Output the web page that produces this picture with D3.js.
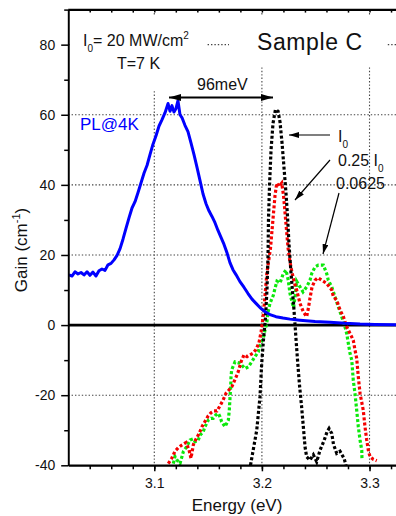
<!DOCTYPE html>
<html><head><meta charset="utf-8">
<script src="https://cdn.jsdelivr.net/npm/d3@7"></script>
<style>body{margin:0;background:#fff}svg{display:block}</style>
</head><body>
<svg id="c" width="396" height="516"></svg>
<script>
// ---------- data ----------
const plEnergy=[3.0207,3.0235,3.0263,3.0291,3.0319,3.0347,3.0375,3.0402,3.0430,3.0458,3.0486,3.0514,3.0542,3.0570,3.0598,3.0626,3.0654,3.0682,3.0709,3.0737,3.0765,3.0793,3.0821,3.0849,3.0877,3.0905,3.0933,3.0960,3.0988,3.1016,3.1044,3.1072,3.1100,3.1128,3.1146,3.1164,3.1183,3.1202,3.1220,3.1239,3.1257,3.1285,3.1313,3.1341,3.1369,3.1397,3.1425,3.1453,3.1481,3.1508,3.1536,3.1564,3.1592,3.1620,3.1648,3.1676,3.1703,3.1731,3.1759,3.1796,3.1833,3.1871,3.1908,3.1945,3.1982,3.2029,3.2075,3.2131,3.2196,3.2261,3.2354,3.2494,3.2633,3.2772,3.2912,3.3051,3.3247];
const plGain=[14.3,14.0,15.2,14.6,15.0,14.3,15.2,14.2,15.1,14.0,15.5,16.0,15.6,17.2,17.6,18.6,19.9,21.8,24.5,27.6,30.6,33.4,35.2,37.8,40.6,43.4,45.6,48.6,51.6,54.0,56.8,58.6,60.6,63.2,61.0,62.6,60.8,61.8,64.0,60.0,59.2,57.0,55.2,52.0,48.6,45.0,41.2,37.4,34.6,32.6,31.0,29.2,27.0,25.0,23.0,20.6,17.8,15.8,14.4,12.4,10.8,9.0,7.4,6.2,5.0,3.8,3.0,2.4,2.0,1.7,1.4,1.0,0.8,0.5,0.3,0.2,0.1];

const fullEnergy=[3.1894,3.1917,3.1952,3.1982,3.1998,3.2015,3.2033,3.2047,3.2057,3.2061,3.2071,3.2085,3.2103,3.2126,3.2150,3.2168,3.2187,3.2205,3.2224,3.2238,3.2252,3.2270,3.2294,3.2308,3.2317,3.2331,3.2349,3.2368,3.2385,3.2401,3.2416,3.2447,3.2478,3.2509,3.2540,3.2577,3.2605,3.2624,3.2649,3.2665,3.2695,3.2726,3.2744,3.2763,3.2782];
const fullGain=[-40,-36,-30,-20.5,-11,-4,2,10,20,30,40,50,57.5,61.5,61,58,52,45,37.6,31,23,15,6,0,-4,-10,-17,-23,-29,-34.8,-37.6,-38.5,-37,-39,-35.7,-33,-30.5,-29.5,-30.9,-34,-36.6,-36,-37,-38,-40];

const quarterEnergy=[3.1130,3.1162,3.1192,3.1223,3.1257,3.1295,3.1322,3.1341,3.1364,3.1388,3.1415,3.1443,3.1471,3.1499,3.1527,3.1555,3.1583,3.1611,3.1638,3.1666,3.1694,3.1722,3.1750,3.1778,3.1806,3.1834,3.1862,3.1889,3.1917,3.1945,3.1973,3.1992,3.2006,3.2020,3.2033,3.2047,3.2066,3.2080,3.2094,3.2108,3.2122,3.2138,3.2159,3.2184,3.2201,3.2215,3.2229,3.2243,3.2261,3.2280,3.2303,3.2323,3.2354,3.2385,3.2416,3.2433,3.2447,3.2466,3.2494,3.2521,3.2556,3.2602,3.2649,3.2664,3.2695,3.2726,3.2757,3.2788,3.2819,3.2849,3.2865,3.2881,3.2896,3.2912,3.2942,3.2958,3.2974,3.2989,3.3005,3.3035,3.3067];
const quarterGain=[-39.5,-38,-36,-35,-34.2,-33.5,-35.5,-38,-34,-32.5,-31,-29,-27.5,-26,-25,-24.5,-24.5,-23,-21.5,-19.5,-18.5,-17.5,-15.5,-13.5,-10.5,-8.5,-9,-8.5,-8,-7,-5,-2,1,5,10,15,19,22,27,32,37,40.5,39.5,40.5,37,32,27,22,18,15,12,10,6.2,3.8,2.4,5,7.7,10.9,12.8,13.5,12.8,11.9,10,8.1,7.1,4.3,2.4,-0.5,-2.4,-4.3,-7.1,-9.5,-14.8,-19.5,-24.3,-29,-32.8,-35.7,-37.6,-38.3,-38.7];

const sixteenthEnergy=[3.1177,3.1192,3.1211,3.1239,3.1270,3.1301,3.1332,3.1360,3.1378,3.1406,3.1425,3.1455,3.1471,3.1502,3.1527,3.1548,3.1573,3.1595,3.1611,3.1626,3.1657,3.1688,3.1697,3.1704,3.1710,3.1713,3.1719,3.1750,3.1796,3.1843,3.1874,3.1905,3.1936,3.1967,3.1982,3.2013,3.2029,3.2045,3.2059,3.2075,3.2106,3.2122,3.2140,3.2168,3.2199,3.2224,3.2245,3.2261,3.2277,3.2294,3.2308,3.2323,3.2354,3.2382,3.2416,3.2447,3.2463,3.2494,3.2524,3.2571,3.2602,3.2617,3.2649,3.2679,3.2710,3.2742,3.2772,3.2788,3.2803,3.2819,3.2835,3.2849,3.2865,3.2881,3.2896,3.2912,3.2928,3.2930];
const sixteenthGain=[-39.5,-37.5,-38.5,-39.5,-36.1,-34.7,-32.8,-32.5,-33.3,-33,-31.4,-30.4,-29,-27.1,-26.6,-26.6,-25.6,-25.2,-26.2,-27.6,-29,-27.1,-24.3,-20.5,-17.6,-14.7,-12.8,-10.5,-10.9,-12.4,-11.9,-10.5,-9,-7.6,-5.7,-3.8,-1.4,0.5,4,6.2,8.5,10.5,12.5,12,14.7,15.7,12.8,9,7,5,8,12.5,10.9,9.5,10.9,12.8,14.7,16.6,17.1,17.1,14.7,12.8,10.9,8.1,5.2,2.4,-0.5,-2.4,-5.2,-8.1,-10,-15.7,-19.5,-24.3,-29,-32.8,-35.7,-38.5];

const xTickLabels=[3.1,3.2,3.3];
const xMinorTicks=[3.04,3.06,3.08,3.10,3.12,3.14,3.16,3.18,3.20,3.22,3.24,3.26,3.28,3.30,3.32];
const yTickLabels=[-40,-20,0,20,40,60,80];
const yMinorTicks=[-30,-10,10,30,50,70,90];
const yGrid=[-20,20,40,60,80];
const xGrid=[3.1,3.2,3.3];

// ---------- layout ----------
const FONT='"Liberation Sans", Arial, Helvetica, sans-serif';
const svg=d3.select('#c');
const L=68.2,R=401.8,T=9.6,B=465.3;
const x=d3.scaleLinear().domain([3.02,3.33]).range([L,R]);
const y=d3.scaleLinear().domain([-40,90]).range([B,T]);

svg.append('defs').append('clipPath').attr('id','clip')
  .append('rect').attr('x',L).attr('y',T).attr('width',396-L).attr('height',B-T);

// grid
const g=svg.append('g');
g.selectAll('.hg').data(yGrid).join('line')
  .attr('x1',L).attr('x2',396).attr('y1',d=>y(d)).attr('y2',d=>y(d))
  .attr('stroke','#444').attr('stroke-width',1.1).attr('stroke-dasharray','1.4,2');
g.selectAll('.vg').data(xGrid).join('line')
  .attr('x1',d=>x(d)).attr('x2',d=>x(d)).attr('y1',T).attr('y2',B)
  .attr('stroke','#444').attr('stroke-width',1.1).attr('stroke-dasharray','1.4,2');

// white label boxes
g.append('rect').attr('x',70).attr('y',16).attr('width',137).attr('height',74).attr('fill','#fff');
g.append('rect').attr('x',229).attr('y',16).attr('width',158).attr('height',51).attr('fill','#fff');

// zero line
svg.append('line').attr('x1',L).attr('x2',396).attr('y1',y(0)).attr('y2',y(0))
  .attr('stroke','#000').attr('stroke-width',2.6);

// curves
const plot=svg.append('g').attr('clip-path','url(#clip)');
const mk=(E,G)=>E.map((e,i)=>[e,G[i]]);
const line=d3.line().x(d=>x(d[0])).y(d=>y(d[1]));
const dotted=[
  {E:sixteenthEnergy,G:sixteenthGain,c:'#0be80b'},
  {E:quarterEnergy,G:quarterGain,c:'#f50000'},
  {E:fullEnergy,G:fullGain,c:'#000'}
];
dotted.forEach(s=>{
  plot.append('path').attr('d',line(mk(s.E,s.G))).attr('fill','none')
    .attr('stroke',s.c).attr('stroke-width',3.2).attr('stroke-dasharray','3,2.2');
});
plot.append('path').attr('d',line(mk(plEnergy,plGain))).attr('fill','none')
  .attr('stroke','#0000ff').attr('stroke-width',3).attr('stroke-linejoin','round');

// axes
const axG=svg.append('g').attr('font-family',FONT);
const yl=axG.append('g').attr('transform',`translate(${L},0)`)
  .call(d3.axisLeft(y).tickValues(yTickLabels).tickSize(7).tickSizeOuter(0).tickPadding(6).tickFormat(d=>String(d)));
axG.append('g').attr('transform',`translate(${L},0)`)
  .call(d3.axisLeft(y).tickValues(yMinorTicks).tickSize(4).tickSizeOuter(0).tickFormat(''));
const xb=axG.append('g').attr('transform',`translate(0,${B})`)
  .call(d3.axisBottom(x).tickValues(xTickLabels).tickSize(6).tickSizeOuter(0).tickPadding(7).tickFormat(d3.format('.1f')));
axG.append('g').attr('transform',`translate(0,${B})`)
  .call(d3.axisBottom(x).tickValues(xMinorTicks).tickSize(4).tickSizeOuter(0).tickFormat(''));
axG.append('g').attr('transform',`translate(0,${T})`)
  .call(d3.axisTop(x).tickValues(xMinorTicks).tickSize(-3).tickSizeOuter(0).tickFormat(''));
axG.selectAll('.domain').attr('stroke','#000').attr('stroke-width',1.6);
axG.selectAll('.tick line').attr('stroke','#000').attr('stroke-width',1.5);
axG.selectAll('.tick text').attr('font-size',14).attr('font-family',FONT).attr('fill','#111');
// extend top & bottom lines to right edge
svg.append('line').attr('x1',L).attr('x2',396).attr('y1',T).attr('y2',T).attr('stroke','#000').attr('stroke-width',1.6);
svg.append('line').attr('x1',L).attr('x2',396).attr('y1',B).attr('y2',B).attr('stroke','#000').attr('stroke-width',1.6);

// axis titles
svg.append('text').attr('x',237).attr('y',511).attr('text-anchor','middle')
  .attr('font-family',FONT).attr('font-size',17).attr('fill','#111').text('Energy (eV)');
const yt=svg.append('text').attr('transform','translate(27,250) rotate(-90)').attr('text-anchor','middle')
  .attr('font-family',FONT).attr('font-size',17).attr('fill','#111');
yt.append('tspan').text('Gain (cm');
yt.append('tspan').attr('font-size',11).attr('dy',-7).text('-1');
yt.append('tspan').attr('dy',7).text(')');

// annotations
const ann=svg.append('g').attr('font-family',FONT).attr('fill','#111');
const t1=ann.append('text').attr('x',83).attr('y',46).attr('font-size',16);
t1.append('tspan').text('I');
t1.append('tspan').attr('font-size',10).attr('dy',6).text('0');
t1.append('tspan').attr('dy',-6).text('= 20 MW/cm');
t1.append('tspan').attr('font-size',10).attr('dy',-7).text('2');
ann.append('text').attr('x',117).attr('y',69).attr('font-size',16).text('T=7 K');
ann.append('text').attr('x',257).attr('y',50).attr('font-size',23).attr('letter-spacing',0.6).text('Sample C');
ann.append('text').attr('x',197).attr('y',90).attr('font-size',16).text('96meV');
svg.append('text').attr('x',80).attr('y',130).attr('font-family',FONT).attr('font-size',17)
  .attr('fill','#0000ff').text('PL@4K');
const t2=ann.append('text').attr('x',338).attr('y',142).attr('font-size',16);
t2.append('tspan').text('I');
t2.append('tspan').attr('font-size',10).attr('dy',6).text('0');
const t3=ann.append('text').attr('x',338).attr('y',166).attr('font-size',16);
t3.append('tspan').text('0.25 I');
t3.append('tspan').attr('font-size',10).attr('dy',6).text('0');
ann.append('text').attr('x',336).attr('y',189).attr('font-size',16).text('0.0625');

// arrows
const defs=svg.select('defs');
function marker(id,len,w){
  defs.append('marker').attr('id',id).attr('markerUnits','userSpaceOnUse')
    .attr('viewBox',`0 ${-w/2} ${len} ${w}`).attr('refX',len).attr('refY',0)
    .attr('markerWidth',len).attr('markerHeight',w).attr('orient','auto-start-reverse')
    .append('path').attr('d',`M0,${-w/2}L${len},0L0,${w/2}Z`).attr('fill','#000');
}
marker('ah',12,7);
marker('as',10,6);
svg.append('line').attr('x1',169).attr('y1',97.5).attr('x2',273).attr('y2',97.5)
  .attr('stroke','#000').attr('stroke-width',2)
  .attr('marker-start','url(#ah)').attr('marker-end','url(#ah)');
const arrows=[[330,135,289,135],[330,160,295,200],[339,193,323,254]];
arrows.forEach(a=>{
  svg.append('line').attr('x1',a[0]).attr('y1',a[1]).attr('x2',a[2]).attr('y2',a[3])
    .attr('stroke','#000').attr('stroke-width',1.2).attr('marker-end','url(#as)');
});
</script>
</body></html>
